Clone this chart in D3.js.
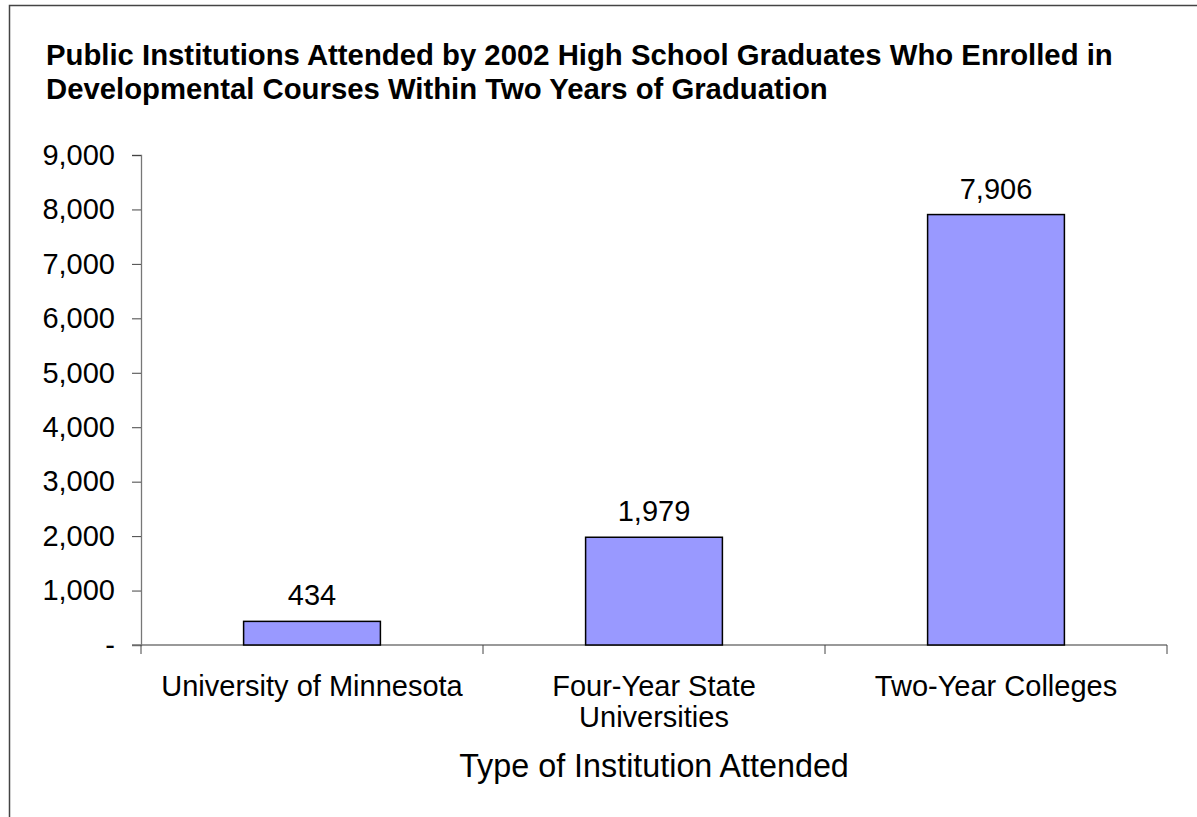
<!DOCTYPE html>
<html>
<head>
<meta charset="utf-8">
<script src="https://cdn.jsdelivr.net/npm/d3@7"></script>
<style>
  body { margin: 0; background: #fff; }
  svg { display: block; font-family: "Liberation Sans", Arial, sans-serif; }
</style>
</head>
<body>
<div class="container"></div>
<script>
// data
const categories = ["University of Minnesota", "Four-Year State Universities", "Two-Year Colleges"]
const catLines = [["University of Minnesota"], ["Four-Year State", "Universities"], ["Two-Year Colleges"]]
const values = [434, 1979, 7906]
const yTicks = [0, 1000, 2000, 3000, 4000, 5000, 6000, 7000, 8000, 9000]
const titleLines = ["Public Institutions Attended by 2002 High School Graduates Who Enrolled in",
                    "Developmental Courses Within Two Years of Graduation"]
const xTitle = "Type of Institution Attended"

const w = 1197
const h = 817
const plotL = 141, plotR = 1167, plotT = 155, plotB = 645

const svg = d3.select(".container")
.append("svg")
.attr("width", w)
.attr("height", h)

// chart frame (clipped on right/bottom like the original)
svg.append("path")
.attr("d", `M9.5,${h + 5}V5.5H${w + 5}`)
.attr("fill", "none")
.attr("stroke", "#444")
.attr("stroke-width", 1.5)

svg.selectAll(".title")
.data(titleLines)
.enter()
.append("text")
.attr("class", "title")
.attr("x", 46)
.attr("y", (d, i) => 65 + i * 34)
.style("font-size", "29.3px")
.style("font-weight", "bold")
.text(d => d)

//Scales
const xScale = d3.scaleBand()
.domain(categories)
.range([plotL, plotR])
.paddingInner(0.6)
.paddingOuter(0.3)

const yScale = d3.scaleLinear()
.domain([0, 9000])
.range([plotB, plotT])

const fmt = d3.format(",")

//Axises
const yAxis = d3.axisLeft(yScale)
.tickValues(yTicks)
.tickSize(9)
.tickPadding(17)
.tickFormat(d => d === 0 ? "-" : fmt(d))

const yG = svg.append("g")
.attr("transform", "translate(" + plotL + ",0)")
.call(yAxis)
yG.select(".domain").attr("stroke", "#777").attr("stroke-width", 1.3)
yG.selectAll(".tick line").attr("stroke", "#444")
yG.selectAll("text").style("font-size", "29px").attr("fill", "#000")
yG.attr("font-family", null).attr("font-size", null)

// x axis: line + ticks between categories
const step = xScale.step()
const xTickPos = d3.range(categories.length + 1).map(i => plotL + i * step)

svg.append("line")
.attr("x1", plotL - 9).attr("x2", plotR)
.attr("y1", plotB).attr("y2", plotB)
.attr("stroke", "#777")
.attr("stroke-width", 1.3)

svg.selectAll(".xtick")
.data(xTickPos)
.enter()
.append("line")
.attr("class", "xtick")
.attr("x1", d => d).attr("x2", d => d)
.attr("y1", plotB).attr("y2", plotB + 9)
.attr("stroke", "#444")

svg.selectAll("rect.bar")
.data(values)
.enter()
.append("rect")
.attr("class", "bar")
.attr("x", (d, i) => xScale(categories[i]))
.attr("y", d => yScale(d))
.attr("width", xScale.bandwidth())
.attr("height", d => yScale(0) - yScale(d))
.attr("fill", "#9999ff")
.attr("stroke", "#000")
.attr("stroke-width", 1.5)

svg.selectAll(".val")
.data(values)
.enter()
.append("text")
.attr("class", "val")
.attr("x", (d, i) => xScale(categories[i]) + xScale.bandwidth() / 2)
.attr("y", d => yScale(d) - 16)
.style("text-anchor", "middle")
.style("font-size", "29px")
.text(d => fmt(d))

const catG = svg.selectAll(".cat")
.data(catLines)
.enter()
.append("text")
.attr("class", "cat")
.attr("x", (d, i) => xScale(categories[i]) + xScale.bandwidth() / 2)
.attr("y", 696)
.style("text-anchor", "middle")
.style("font-size", "29px")

catG.selectAll("tspan")
.data(d => d)
.enter()
.append("tspan")
.attr("x", function () { return d3.select(this.parentNode).attr("x") })
.attr("dy", (d, i) => i === 0 ? 0 : 31)
.text(d => d)

svg.append("text")
.attr("x", (plotL + plotR) / 2)
.attr("y", 777)
.style("text-anchor", "middle")
.style("font-size", "32.3px")
.text(xTitle)
</script>
</body>
</html>
